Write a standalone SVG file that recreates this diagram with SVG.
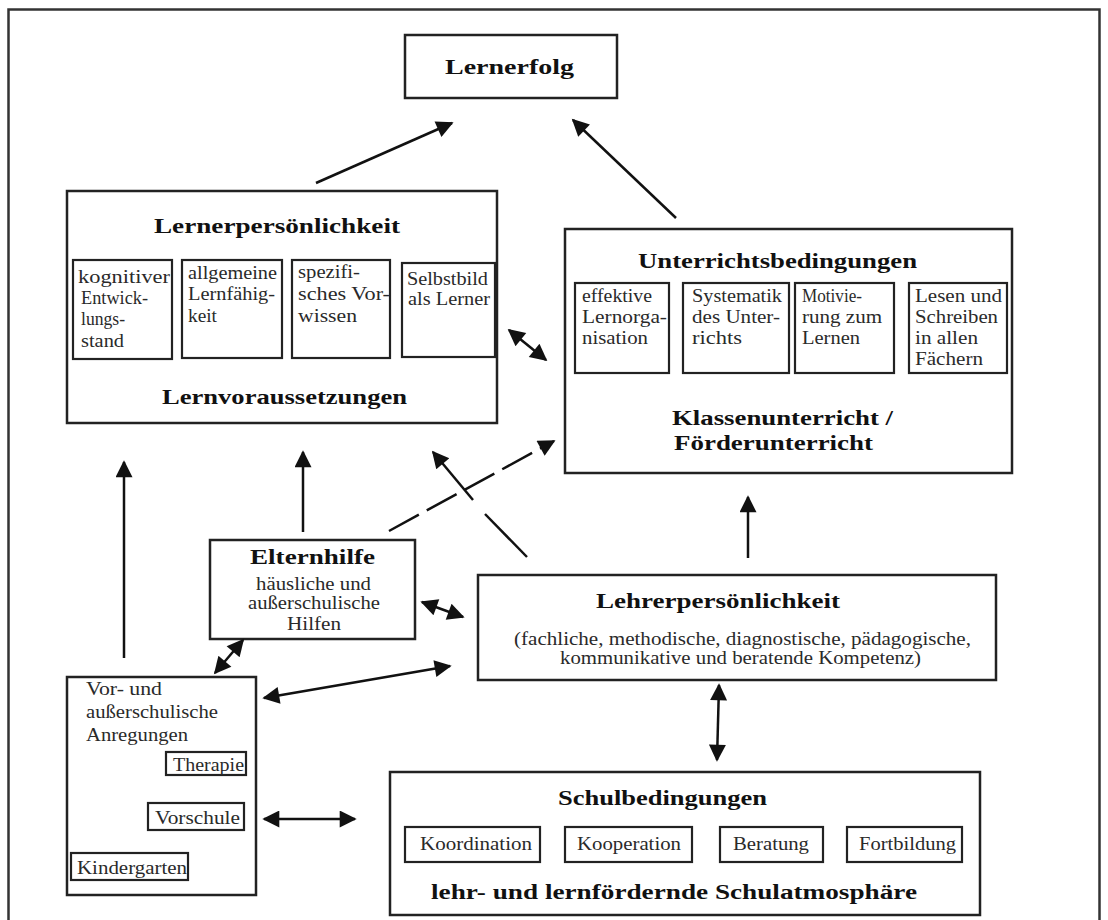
<svg xmlns="http://www.w3.org/2000/svg" width="1108" height="920" viewBox="0 0 1108 920">
<defs>
<style>
.frame{fill:none;stroke:#333;stroke-width:2.5}
.box{fill:#fff;stroke:#222;stroke-width:2.5}
.sub{fill:#fff;stroke:#222;stroke-width:2.2}
.t{font-family:"Liberation Serif","Times New Roman",serif;font-weight:bold;font-size:20px;fill:#111}
.s{font-family:"Liberation Serif","Times New Roman",serif;font-size:19px;fill:#2a2a2a}
.c{stroke:#111;stroke-width:2.5;fill:none}
.d{stroke:#111;stroke-width:2.5;fill:none;stroke-dasharray:34 9}
</style>
<marker id="ah" viewBox="0 0 10 10" refX="9" refY="5" markerWidth="22" markerHeight="17" markerUnits="userSpaceOnUse" orient="auto-start-reverse">
<path d="M0,0 L10,5 L0,10 z" fill="#111"/>
</marker>
</defs>
<rect width="1108" height="920" fill="#fff"/>
<rect class="frame" x="8.5" y="9.5" width="1091" height="930"/>

<g id="lernerfolg">
<rect class="box" x="405" y="35" width="212" height="63"/>
<text class="t" x="445" y="74" textLength="129" lengthAdjust="spacingAndGlyphs">Lernerfolg</text>
</g>

<g id="lernerpersoenlichkeit">
<rect class="box" x="67" y="191" width="430" height="232"/>
<text class="t" x="154" y="233" textLength="246" lengthAdjust="spacingAndGlyphs">Lernerpersönlichkeit</text>
<rect class="sub" x="73" y="260" width="99" height="99"/>
<text class="s" x="78" y="283" textLength="92" lengthAdjust="spacingAndGlyphs">kognitiver</text>
<text class="s" x="81" y="304" textLength="67" lengthAdjust="spacingAndGlyphs">Entwick-</text>
<text class="s" x="81" y="325" textLength="44" lengthAdjust="spacingAndGlyphs">lungs-</text>
<text class="s" x="81" y="347" textLength="43" lengthAdjust="spacingAndGlyphs">stand</text>
<rect class="sub" x="182" y="260" width="100" height="98"/>
<text class="s" x="188" y="279" textLength="89" lengthAdjust="spacingAndGlyphs">allgemeine</text>
<text class="s" x="188" y="300" textLength="87" lengthAdjust="spacingAndGlyphs">Lernfähig-</text>
<text class="s" x="188" y="322" textLength="29" lengthAdjust="spacingAndGlyphs">keit</text>
<rect class="sub" x="292" y="260" width="98" height="98"/>
<text class="s" x="298" y="278" textLength="62" lengthAdjust="spacingAndGlyphs">spezifi-</text>
<text class="s" x="298" y="300" textLength="92" lengthAdjust="spacingAndGlyphs">sches Vor-</text>
<text class="s" x="298" y="322" textLength="59" lengthAdjust="spacingAndGlyphs">wissen</text>
<rect class="sub" x="402" y="263" width="93" height="94"/>
<text class="s" x="407" y="285" textLength="81" lengthAdjust="spacingAndGlyphs">Selbstbild</text>
<text class="s" x="408" y="305" textLength="82" lengthAdjust="spacingAndGlyphs">als Lerner</text>
<text class="t" x="162" y="404" textLength="245" lengthAdjust="spacingAndGlyphs">Lernvoraussetzungen</text>
</g>

<g id="unterrichtsbedingungen">
<rect class="box" x="565" y="229" width="447" height="244"/>
<text class="t" x="638" y="268" textLength="279" lengthAdjust="spacingAndGlyphs">Unterrichtsbedingungen</text>
<rect class="sub" x="575" y="283" width="94" height="90"/>
<text class="s" x="582" y="302" textLength="70" lengthAdjust="spacingAndGlyphs">effektive</text>
<text class="s" x="582" y="323" textLength="85" lengthAdjust="spacingAndGlyphs">Lernorga-</text>
<text class="s" x="582" y="344" textLength="66" lengthAdjust="spacingAndGlyphs">nisation</text>
<rect class="sub" x="683" y="283" width="106" height="90"/>
<text class="s" x="692" y="302" textLength="90" lengthAdjust="spacingAndGlyphs">Systematik</text>
<text class="s" x="692" y="323" textLength="88" lengthAdjust="spacingAndGlyphs">des Unter-</text>
<text class="s" x="692" y="344" textLength="50" lengthAdjust="spacingAndGlyphs">richts</text>
<rect class="sub" x="795" y="283" width="99" height="90"/>
<text class="s" x="802" y="302" textLength="60" lengthAdjust="spacingAndGlyphs">Motivie-</text>
<text class="s" x="802" y="323" textLength="80" lengthAdjust="spacingAndGlyphs">rung zum</text>
<text class="s" x="802" y="344" textLength="58" lengthAdjust="spacingAndGlyphs">Lernen</text>
<rect class="sub" x="909" y="283" width="98" height="90"/>
<text class="s" x="915" y="302" textLength="87" lengthAdjust="spacingAndGlyphs">Lesen und</text>
<text class="s" x="915" y="323" textLength="83" lengthAdjust="spacingAndGlyphs">Schreiben</text>
<text class="s" x="915" y="344" textLength="63" lengthAdjust="spacingAndGlyphs">in allen</text>
<text class="s" x="915" y="365" textLength="68" lengthAdjust="spacingAndGlyphs">Fächern</text>
<text class="t" x="672" y="425" textLength="221" lengthAdjust="spacingAndGlyphs">Klassenunterricht /</text>
<text class="t" x="674" y="450" textLength="199" lengthAdjust="spacingAndGlyphs">Förderunterricht</text>
</g>

<g id="elternhilfe">
<rect class="box" x="210" y="540" width="205" height="99"/>
<text class="t" x="250" y="564" textLength="125" lengthAdjust="spacingAndGlyphs">Elternhilfe</text>
<text class="s" x="256" y="590" textLength="115" lengthAdjust="spacingAndGlyphs">häusliche und</text>
<text class="s" x="248" y="609" textLength="132" lengthAdjust="spacingAndGlyphs">außerschulische</text>
<text class="s" x="287" y="630" textLength="54" lengthAdjust="spacingAndGlyphs">Hilfen</text>
</g>

<g id="lehrerpersoenlichkeit">
<rect class="box" x="478" y="575" width="518" height="105"/>
<text class="t" x="596" y="608" textLength="244" lengthAdjust="spacingAndGlyphs">Lehrerpersönlichkeit</text>
<text class="s" x="514" y="645" textLength="457" lengthAdjust="spacingAndGlyphs">(fachliche, methodische, diagnostische, pädagogische,</text>
<text class="s" x="560" y="664" textLength="361" lengthAdjust="spacingAndGlyphs">kommunikative und beratende Kompetenz)</text>
</g>

<g id="anregungen">
<rect class="box" x="67" y="677" width="189" height="218"/>
<text class="s" x="86" y="695" textLength="76" lengthAdjust="spacingAndGlyphs">Vor- und</text>
<text class="s" x="86" y="718" textLength="132" lengthAdjust="spacingAndGlyphs">außerschulische</text>
<text class="s" x="86" y="741" textLength="102" lengthAdjust="spacingAndGlyphs">Anregungen</text>
<rect class="sub" x="166" y="752" width="80" height="23"/>
<text class="s" x="173" y="771" textLength="71" lengthAdjust="spacingAndGlyphs">Therapie</text>
<rect class="sub" x="148" y="803" width="96" height="27"/>
<text class="s" x="155" y="824" textLength="85" lengthAdjust="spacingAndGlyphs">Vorschule</text>
<rect class="sub" x="71" y="853" width="117" height="27"/>
<text class="s" x="77" y="874" textLength="110" lengthAdjust="spacingAndGlyphs">Kindergarten</text>
</g>

<g id="schulbedingungen">
<rect class="box" x="390" y="772" width="590" height="143"/>
<text class="t" x="558" y="805" textLength="209" lengthAdjust="spacingAndGlyphs">Schulbedingungen</text>
<rect class="sub" x="405" y="827" width="135" height="35"/>
<text class="s" x="420" y="850" textLength="112" lengthAdjust="spacingAndGlyphs">Koordination</text>
<rect class="sub" x="565" y="827" width="127" height="35"/>
<text class="s" x="577" y="850" textLength="104" lengthAdjust="spacingAndGlyphs">Kooperation</text>
<rect class="sub" x="720" y="827" width="103" height="35"/>
<text class="s" x="733" y="850" textLength="76" lengthAdjust="spacingAndGlyphs">Beratung</text>
<rect class="sub" x="847" y="827" width="115" height="35"/>
<text class="s" x="859" y="850" textLength="97" lengthAdjust="spacingAndGlyphs">Fortbildung</text>
<text class="t" x="431" y="899" textLength="486" lengthAdjust="spacingAndGlyphs">lehr- und lernfördernde Schulatmosphäre</text>
</g>

<g id="connectors">
<line class="c" x1="316" y1="183" x2="452" y2="123" marker-end="url(#ah)"/>
<line class="c" x1="676" y1="218" x2="573" y2="120" marker-end="url(#ah)"/>
<line class="c" x1="509" y1="330" x2="546" y2="360" marker-start="url(#ah)" marker-end="url(#ah)"/>
<line class="c" x1="124" y1="658" x2="124" y2="462" marker-end="url(#ah)"/>
<line class="c" x1="303" y1="532" x2="303" y2="452" marker-end="url(#ah)"/>
<line class="d" x1="389" y1="531" x2="554" y2="441" marker-end="url(#ah)"/>
<line class="c" x1="527" y1="557" x2="485" y2="514"/>
<line class="c" x1="473" y1="500" x2="433" y2="452" marker-end="url(#ah)"/>
<line class="c" x1="422" y1="602" x2="463" y2="617" marker-start="url(#ah)" marker-end="url(#ah)"/>
<line class="c" x1="243" y1="640" x2="215" y2="673" marker-start="url(#ah)" marker-end="url(#ah)"/>
<line class="c" x1="264" y1="698" x2="450" y2="666" marker-start="url(#ah)" marker-end="url(#ah)"/>
<line class="c" x1="748" y1="558" x2="748" y2="497" marker-end="url(#ah)"/>
<line class="c" x1="719" y1="685" x2="717" y2="760" marker-start="url(#ah)" marker-end="url(#ah)"/>
<line class="c" x1="264" y1="819" x2="355" y2="819" marker-start="url(#ah)" marker-end="url(#ah)"/>
</g>
</svg>
